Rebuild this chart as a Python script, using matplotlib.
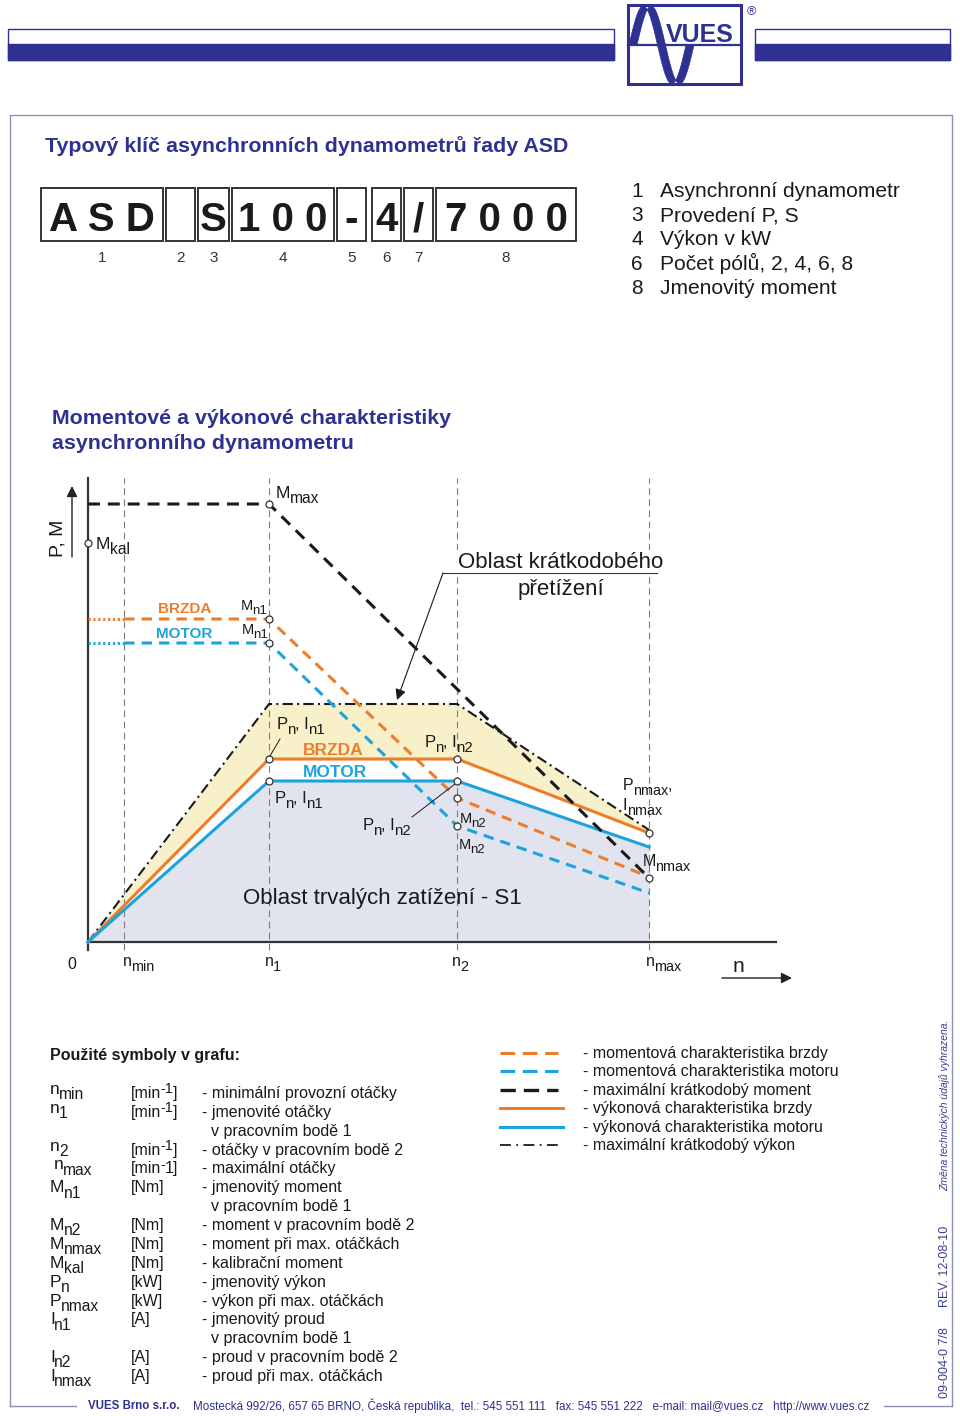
import re
import numpy as np
import matplotlib as mpl
mpl.use('Agg')
import matplotlib.pyplot as plt
from matplotlib.patches import Rectangle, Polygon

plt.rcParams['font.family'] = ['Liberation Sans', 'DejaVu Sans']

NAVY = '#2e3192'
ORANGE = '#ee7d2b'
BLUE = '#1ba3de'
INK = '#1a1a1a'

################################## DATA ########################################
# speeds (relative, n1 = 1)
n_min, n_1, n_2, n_max = 0.20, 1.00, 2.04, 3.10
# moments / powers (relative units)
M_max, M_kal = 4.38, 3.99
n_pow = [0, n_1, n_2, n_max]
P_max = [0, 2.38, 2.38, 1.12]          # max. kratkodoby vykon
P_brzda = [0, 1.83, 1.83, 1.09]        # vykonova char. brzdy
P_motor = [0, 1.61, 1.61, 0.95]        # vykonova char. motoru
n_mom = [n_min, n_1, n_2, n_max]
M_brzda = [3.23, 3.23, 1.44, 0.65]     # momentova char. brzdy
M_motor = [2.99, 2.99, 1.16, 0.49]     # momentova char. motoru
n_top = [0, n_1, n_max]
M_top = [M_max, M_max, 0.64]           # max. kratkodoby moment
pts_n = [0, n_1, n_1, n_1, n_1, n_1, n_2, n_2, n_2, n_2, n_max, n_max]
pts_v = [M_kal, M_max, 3.23, 2.99, 1.83, 1.61, 1.83, 1.61, 1.44, 1.16, 1.09, 0.64]

code_txt = ['A S D', '', 'S', '1 0 0', '-', '4', '/', '7 0 0 0']
code_num = ['1', '2', '3', '4', '5', '6', '7', '8']
key_num = ['1', '3', '4', '6', '8']
key_txt = ['Asynchronní dynamometr', 'Provedení P, S', 'Výkon v kW',
           'Počet pólů, 2, 4, 6, 8', 'Jmenovitý moment']

sym = ['n_{min}', 'n_{1}', '', 'n_{2}', 'n_{max}', 'M_{n1}', '', 'M_{n2}',
       'M_{nmax}', 'M_{kal}', 'P_{n}', 'P_{nmax}', 'I_{n1}', '', 'I_{n2}', 'I_{nmax}']
unit = ['[min^{-1}]', '[min^{-1}]', '', '[min^{-1}]', '[min^{-}1]', '[Nm]', '',
        '[Nm]', '[Nm]', '[Nm]', '[kW]', '[kW]', '[A]', '', '[A]', '[A]']
desc = ['- minimální provozní otáčky', '- jmenovité otáčky', 'v pracovním bodě 1',
        '- otáčky v pracovním bodě 2', '- maximální otáčky', '- jmenovitý moment',
        'v pracovním bodě 1', '- moment v pracovním bodě 2', '- moment při max. otáčkách',
        '- kalibrační moment', '- jmenovitý výkon', '- výkon při max. otáčkách',
        '- jmenovitý proud', 'v pracovním bodě 1', '- proud v pracovním bodě 2',
        '- proud při max. otáčkách']
leg_txt = ['- momentová charakteristika brzdy', '- momentová charakteristika motoru',
           '- maximální krátkodobý moment', '- výkonová charakteristika brzdy',
           '- výkonová charakteristika motoru', '- maximální krátkodobý výkon']
################################################################################


def parse(s):
    out = []
    for tok in re.split(r'([_^]\{[^}]*\})', s):
        if not tok:
            continue
        if tok[:2] == '_{':
            out.append((tok[2:-1], -1))
        elif tok[:2] == '^{':
            out.append((tok[2:-1], 1))
        else:
            out.append((tok, 0))
    return out


def rich(ax, x, y, s, size, color=INK, weight='normal', tr=None, z=6):
    # text with sub/superscripts, pieces chained one after another
    parts = parse(s)
    prev = ax.text(x, y, parts[0][0], fontsize=size, color=color, weight=weight,
                   va='baseline', ha='left', zorder=z,
                   transform=ax.transData if tr is None else tr)
    plev = parts[0][1]
    for txt, lev in parts[1:]:
        fs = size * 0.9 if lev else size
        dy = (lev - plev) * size * 0.3
        prev = ax.annotate(txt, xy=(1, 0), xycoords=prev, xytext=(-0.6, dy),
                           textcoords='offset points', fontsize=fs, color=color,
                           weight=weight, va='bottom', ha='left', zorder=z,
                           annotation_clip=False)
        plev = lev
    return prev


fig = plt.figure(figsize=(9.6, 14.16), dpi=100)
page = fig.add_axes([0, 0, 1, 1])
page.set_xlim(0, 960)
page.set_ylim(1416, 0)
page.axis('off')

# header bands
for x0, w in [(8, 606), (755, 195)]:
    page.add_patch(Rectangle((x0, 29), w, 31, fill=False, ec=NAVY, lw=1))
    page.add_patch(Rectangle((x0, 44), w, 16, fc=NAVY, ec=NAVY, lw=1))

# logo
box = Rectangle((628, 5), 113, 79, fill=False, ec=NAVY, lw=2.2, zorder=3)
page.add_patch(box)
page.plot([628, 741], [45, 45], color=NAVY, lw=1.6)
xs = np.linspace(629, 686, 120)
ys = 45 - 39 * np.sin(np.pi * (xs - 629) / 28.5)
wave = Polygon(np.r_[np.c_[xs, ys], np.c_[xs[::-1] + 8, ys[::-1]]],
               closed=True, fc=NAVY, ec=NAVY, lw=0.5)
page.add_patch(wave)
wave.set_clip_path(Rectangle((628, 5), 113, 79, transform=page.transData))
page.text(700, 42, 'VUES', fontsize=18, weight='bold', color=NAVY, ha='center',
          va='baseline')
page.text(751, 12, '®', fontsize=9, color=NAVY, ha='center', va='center')

# main frame
fc = '#8a90b4'
page.plot([10, 10, 952, 952], [1406, 115, 115, 1406], color=fc, lw=1)
page.plot([10, 76], [1406, 1406], color=fc, lw=1)
page.plot([884, 952], [1406, 1406], color=fc, lw=1)

# type key
page.text(45, 152, 'Typový klíč asynchronních dynamometrů řady ASD', fontsize=15.4,
          weight='bold', color=NAVY)
edges = [(41, 163), (166, 195), (198, 229), (232, 334), (337, 366), (372, 401),
         (404, 433), (436, 576)]
for (a, b), t, num in zip(edges, code_txt, code_num):
    page.add_patch(Rectangle((a, 188), b - a, 53, fill=False, ec='#333333', lw=1.4))
    page.text((a + b) / 2, 231, t, fontsize=29, weight='bold', color=INK,
              ha='center', va='baseline')
    page.text((a + b) / 2, 262, num, fontsize=11, color='#333333', ha='center',
              va='baseline')
for i, (nm, t) in enumerate(zip(key_num, key_txt)):
    yy = 197 + i * 24.2
    page.text(637, yy, nm, fontsize=15, color=INK, ha='center', va='baseline')
    page.text(660, yy, t, fontsize=15.1, color=INK, va='baseline')

page.text(52, 424, 'Momentové a výkonové charakteristiky', fontsize=15.4,
          weight='bold', color=NAVY)
page.text(52, 449, 'asynchronního dynamometru', fontsize=15.4, weight='bold',
          color=NAVY)

################################## CHART #######################################
ax = fig.add_axes([40 / 960, (1416 - 990) / 1416, 760 / 960, 520 / 1416])
ax.set_xlim(-48 / 181, 712 / 181)
ax.set_ylim(-0.48, 4.72)
ax.axis('off')
T = page.transData

ax.fill_between(n_pow, 0, P_motor, color='#e1e4ee', lw=0, zorder=0.5)
ax.fill_between(n_pow, P_brzda, P_max, color='#f8f0c8', lw=0, zorder=0.5)

for n in [n_min, n_1, n_2, n_max]:
    ax.plot([n, n], [-0.08, 4.64], color='#7d7d7d', lw=0.8, dashes=(6, 4),
            zorder=1)

ax.plot([0, 0], [-0.08, 4.64], color='#333333', lw=1.6, zorder=2)
ax.plot([0, 3.80], [0, 0], color='#333333', lw=1.6, zorder=2)

ax.plot(n_pow, P_max, color=INK, lw=1.5, dashes=(5, 2, 1, 2), zorder=3)
ax.plot(n_pow, P_brzda, color=ORANGE, lw=2.2, zorder=3)
ax.plot(n_pow, P_motor, color=BLUE, lw=2.2, zorder=3)
for M, col in [(M_brzda, ORANGE), (M_motor, BLUE)]:
    ax.plot([0, n_min], [M[0], M[0]], color=col, lw=2.2, dashes=(0.7, 0.9), zorder=3)
    ax.plot(n_mom, M, color=col, lw=2.2, dashes=(3.4, 2.3), zorder=3)
ax.plot(n_top, M_top, color=INK, lw=2.2, dashes=(3.9, 2.6), zorder=3)
ax.plot(pts_n, pts_v, 'o', ms=5, mfc='white', mec='#333333', mew=0.9, zorder=5)

# leaders
ax.plot([280, 270], [739, 756], transform=T, color=INK, lw=0.7, zorder=4)
ax.plot([412, 455], [817, 784], transform=T, color=INK, lw=0.7, zorder=4)
for yy, t in [(568, 'Oblast krátkodobého'), (595, 'přetížení')]:
    ax.text(561, yy, t, transform=T, fontsize=16, color=INK, ha='center',
            va='baseline', zorder=6, bbox=dict(fc='white', ec='none', pad=1.5))
ax.plot([443, 657], [573, 573], transform=T, color='#333333', lw=0.8, zorder=7)
ax.annotate('', xy=(397, 700), xytext=(443, 573), xycoords=T, textcoords=T,
            arrowprops=dict(arrowstyle='-|>', color=INK, lw=0.8,
                            mutation_scale=16, shrinkA=0, shrinkB=0), zorder=7)

for x, y, s, fs in [(276, 498, 'M_{max}', 12.5), (96, 549, 'M_{kal}', 12.5),
                    (241, 610, 'M_{n1}', 10.5), (242, 634, 'M_{n1}', 10.5),
                    (277, 729, 'P_{n}, I_{n1}', 12), (275, 803, 'P_{n}, I_{n1}', 12),
                    (425, 747, 'P_{n}, I_{n2}', 12), (363, 830, 'P_{n}, I_{n2}', 12),
                    (460, 823, 'M_{n2}', 10.5), (459, 849, 'M_{n2}', 10.5),
                    (623, 790, 'P_{nmax},', 11.5), (623, 810, 'I_{nmax}', 11.5),
                    (643, 866, 'M_{nmax}', 11.5)]:
    rich(ax, x, y, s, fs, tr=T)
for x, y, s, col, fs in [(158, 613, 'BRZDA', ORANGE, 11), (156, 638, 'MOTOR', BLUE, 11),
                         (303, 755, 'BRZDA', ORANGE, 12.5), (303, 777, 'MOTOR', BLUE, 12.5)]:
    ax.text(x, y, s, transform=T, fontsize=fs, weight='bold', color=col,
            va='baseline', zorder=6)
ax.text(243, 904, 'Oblast trvalých zatížení - S1', transform=T, fontsize=16,
        color=INK, va='baseline', zorder=6)

# axis captions
page.text(72, 969, '0', fontsize=11.5, color=INK, ha='center', va='baseline')
for x, s in [(123, 'n_{min}'), (265, 'n_{1}'), (452, 'n_{2}'), (646, 'n_{max}')]:
    rich(page, x, 966, s, 11.5)
page.text(733, 972, 'n', fontsize=15, color=INK, va='baseline')
page.annotate('', xy=(792, 978), xytext=(722, 978),
              arrowprops=dict(arrowstyle='-|>', color='#222222', lw=1,
                              mutation_scale=16, shrinkA=0, shrinkB=0))
page.annotate('', xy=(72, 486), xytext=(72, 557),
              arrowprops=dict(arrowstyle='-|>', color='#222222', lw=1,
                              mutation_scale=16, shrinkA=0, shrinkB=0))
page.text(58, 538, 'P, M', fontsize=14, color=INK, rotation=90, ha='center',
          va='center')

################################## SYMBOLS #####################################
page.text(50, 1060, 'Použité symboly v grafu:', fontsize=11.5, weight='bold',
          color=INK)
for i, (s, u, d) in enumerate(zip(sym, unit, desc)):
    yy = 1098 + i * 18.87
    if s:
        xs0 = 54 if s == 'n_{max}' else 50
        rich(page, xs0, yy - (4 if s.startswith('n') else 0), s, 12.5)
    if u:
        rich(page, 131, yy, u, 11.5)
    page.text(202 if d.startswith('-') else 211, yy, d, fontsize=11.5, color=INK,
              va='baseline')

# legend keys
ly = [1053, 1071, 1090, 1108, 1127, 1145]
kw = [dict(color=ORANGE, lw=2.2, dashes=(4.8, 2.5)),
      dict(color=BLUE, lw=2.2, dashes=(4.8, 2.5)),
      dict(color=INK, lw=2.4, dashes=(4.6, 2.4)),
      dict(color=ORANGE, lw=2.2),
      dict(color=BLUE, lw=2.2),
      dict(color=INK, lw=1.3, dashes=(6, 3, 1, 3))]
for y, t, k in zip(ly, leg_txt, kw):
    page.plot([500, 563 if 'dashes' not in k else 558], [y, y], **k)
    page.text(583, y + 5, t, fontsize=11.5, color=INK, va='baseline')

# side & footer
page.text(945, 1363, '09-004-0 7/8', fontsize=9, color='#3a3f8f', rotation=90,
          ha='center', va='center')
page.text(945, 1266, 'REV. 12-08-10', fontsize=9, color='#3a3f8f', rotation=90,
          ha='center', va='center')
page.text(945, 1105, 'Změna technických údajů vyhrazena.', fontsize=7.5,
          style='italic', color='#3a3f8f', rotation=90, ha='center', va='center')
page.text(88, 1406, 'VUES Brno s.r.o.', fontsize=8.3, weight='bold', color=NAVY,
          va='center')
page.text(193, 1406, 'Mostecká 992/26, 657 65 BRNO, Česká republika,  tel.: 545 551 111'
          '   fax: 545 551 222   e-mail: mail@vues.cz   http://www.vues.cz',
          fontsize=8.4, color=NAVY, va='center')

fig.savefig('out.png', dpi=100)
